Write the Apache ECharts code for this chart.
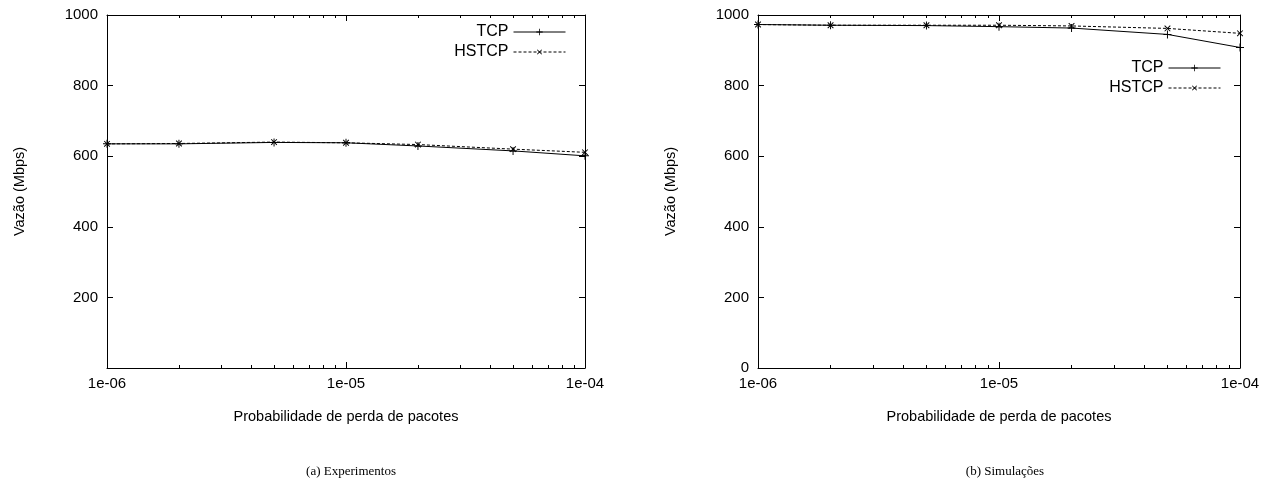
<!DOCTYPE html>
<html>
<head>
<meta charset="utf-8">
<script src="https://cdn.jsdelivr.net/npm/echarts@6/dist/echarts.min.js"></script>
<style>
html,body{margin:0;padding:0;background:#fff;}
#c{width:1281px;height:491px;}
</style>
</head>
<body>
<div id="c"></div>
<script>
const lossProb = [1e-6, 2e-6, 5e-6, 1e-5, 2e-5, 5e-5, 1e-4];
const expTCP   = [635, 635, 639, 638, 629, 615, 601];
const expHSTCP = [635, 636, 640, 638, 633, 620, 611];
const simTCP   = [973, 971, 970, 967, 963, 945, 908];
const simHSTCP = [973, 971, 971, 971, 969, 962, 948];
const xMajorTicks = [1e-6, 1e-5, 1e-4];
const xMinorTicks = [2e-6,3e-6,4e-6,5e-6,6e-6,7e-6,8e-6,9e-6,2e-5,3e-5,4e-5,5e-5,6e-5,7e-5,8e-5,9e-5];
const yTicksExp = [200, 400, 600, 800, 1000];
const yTicksSim = [0, 200, 400, 600, 800, 1000];
const captions = ['(a) Experimentos', '(b) Simulações'];
const xName = 'Probabilidade de perda de pacotes';
const yName = 'Vazão (Mbps)';

const SANS = '"Liberation Sans", Arial, sans-serif';
const grids = [
  {left: 107, top: 15, width: 478, height: 353},
  {left: 758, top: 15, width: 482, height: 353}
];
function fmtX(v){
  const e = Math.round(Math.log10(v));
  return '1e' + (e < 0 ? '-' : '+') + String(Math.abs(e)).padStart(2,'0');
}
const xAxes = [], yAxes = [];
grids.forEach((g, i) => {
  const base = {type:'log', logBase:10, gridIndex:i, min:1e-6, max:1e-4, splitLine:{show:false}};
  xAxes.push(Object.assign({}, base, {
    position:'bottom',
    axisLine:{show:true, lineStyle:{color:'#000', width:1}},
    axisTick:{show:true, inside:true, length:6, customValues:xMajorTicks, lineStyle:{color:'#000'}},
    axisLabel:{show:true, customValues:xMajorTicks, formatter:fmtX, color:'#000', fontFamily:SANS, fontSize:15, margin:8},
    name:xName, nameLocation:'middle', nameGap:41,
    nameTextStyle:{color:'#000', fontFamily:SANS, fontSize:14.5}
  }));
  xAxes.push(Object.assign({}, base, {
    position:'bottom',
    axisLine:{show:false},
    axisTick:{show:true, inside:true, length:3, customValues:xMinorTicks, lineStyle:{color:'#000'}},
    axisLabel:{show:false}
  }));
  xAxes.push(Object.assign({}, base, {
    position:'top',
    axisLine:{show:true, lineStyle:{color:'#000', width:1}},
    axisTick:{show:true, inside:true, length:6, customValues:xMajorTicks, lineStyle:{color:'#000'}},
    axisLabel:{show:false}
  }));
  xAxes.push(Object.assign({}, base, {
    position:'top',
    axisLine:{show:false},
    axisTick:{show:true, inside:true, length:3, customValues:xMinorTicks, lineStyle:{color:'#000'}},
    axisLabel:{show:false}
  }));
  const yt = i === 0 ? yTicksExp : yTicksSim;
  yAxes.push({
    type:'value', gridIndex:i, min:0, max:1000, interval:200, position:'left',
    splitLine:{show:false},
    axisLine:{show:true, lineStyle:{color:'#000', width:1}},
    axisTick:{show:true, inside:true, length:6, customValues:yt, lineStyle:{color:'#000'}},
    axisLabel:{show:true, customValues:yt, formatter:v=>String(v), color:'#000', fontFamily:SANS, fontSize:15, margin:9},
    name:yName, nameLocation:'middle', nameGap:80, nameRotate:90,
    nameTextStyle:{color:'#000', fontFamily:SANS, fontSize:14.5}
  });
  yAxes.push({
    type:'value', gridIndex:i, min:0, max:1000, interval:200, position:'right',
    splitLine:{show:false},
    axisLine:{show:true, lineStyle:{color:'#000', width:1}},
    axisTick:{show:true, inside:true, length:6, customValues:yt, lineStyle:{color:'#000'}},
    axisLabel:{show:false}
  });
});

const plusPath = 'path://M4.4,0h1.2v10h-1.2zM0,4.4h10v1.2h-10z';
function mkSeries(name, vals, gi, dashed){
  return {
    name, type:'line', xAxisIndex:gi*4, yAxisIndex:gi*2,
    data: lossProb.map((x,k)=>[x, vals[k]]),
    symbol: plusPath, symbolSize: 8, symbolRotate: dashed ? 45 : 0,
    showSymbol:true, animation:false,
    lineStyle:{color:'#000', width:1, type: dashed ? [3,2] : 'solid'},
    itemStyle:{color:'#000'},
    emphasis:{disabled:true}
  };
}
const series = [
  mkSeries('TCP', expTCP, 0, false),
  mkSeries('HSTCP', expHSTCP, 0, true),
  mkSeries('TCP', simTCP, 1, false),
  mkSeries('HSTCP', simHSTCP, 1, true)
];
const legendBase = {
  orient:'vertical', align:'right', itemWidth:52, itemHeight:8, itemGap:4,
  textStyle:{color:'#000', fontFamily:SANS, fontSize:16},
  lineStyle:{width:1},
  data:['TCP','HSTCP'], selectedMode:false, padding:0
};
const chart = echarts.init(document.getElementById('c'), null, {renderer:'canvas'});
chart.setOption({
  backgroundColor:'#fff',
  animation:false,
  title: captions.map((t,i)=>({
    text:t, left: i===0 ? 346 : 1000, top: 460, textAlign:'center',
    textStyle:{color:'#000', fontFamily:'"Liberation Serif", "Times New Roman", serif', fontSize:13, fontWeight:'normal'}
  })),
  legend:[
    Object.assign({}, legendBase, {right: 1281-566, top: 24}),
    Object.assign({}, legendBase, {right: 1281-1221, top: 60})
  ],
  grid: grids,
  xAxis: xAxes,
  yAxis: yAxes,
  series
});
</script>
</body>
</html>
